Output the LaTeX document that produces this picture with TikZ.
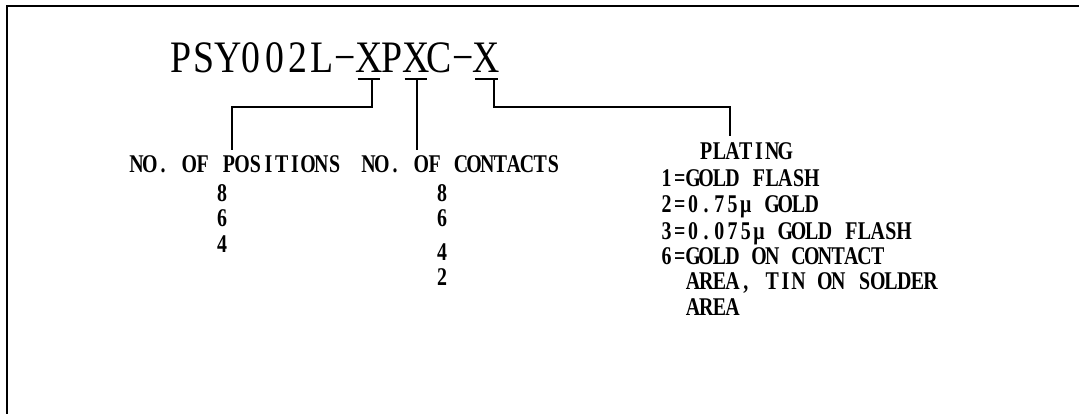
\documentclass[tikz,border=0pt]{standalone}
\usepackage{fontspec}
\usetikzlibrary{calc}
\newfontfamily\cadfont[FakeStretch=0.78,UprightFont=* Bold]{Liberation Serif}
\newfontfamily\cadtitle[FakeStretch=0.84]{Liberation Serif}
\ExplSyntaxOn
\NewDocumentCommand \mono { m m } { \str_map_inline:nn {#2} { \makebox[#1][c]{##1} } }
\ExplSyntaxOff
\newcommand\smono[1]{\mono{13.2pt}{#1}}
\newcommand\tmono[1]{\mono{23.5pt}{#1}}
\begin{document}
\begin{tikzpicture}[x=1pt,y=-1pt,
  lbl/.style={inner sep=0pt,outer sep=0pt,font=\cadfont\fontsize{25.5}{25.5}\selectfont},
  ttl/.style={inner sep=0pt,outer sep=0pt,font=\cadtitle\fontsize{45}{45}\selectfont,anchor=base west},
  conn/.style={line width=1.6pt},
  frame/.style={line width=2pt}]
\useasboundingbox (0,0) rectangle (1079,414);
% frame
\draw[frame] (7,414) -- (7,6) -- (1079,6);
% title
\node[ttl] (t1) at (169,73) {\tmono{PSY002L−}};
\node[ttl] (x1) at (t1.base east) {\tmono{X}};
\node[ttl] (t2) at (x1.base east) {\tmono{P}};
\node[ttl] (x2) at (t2.base east) {\tmono{X}};
\node[ttl] (t3) at (x2.base east) {\tmono{C−}};
\node[ttl] (x3) at (t3.base east) {\tmono{X}};
\foreach \n in {x1,x2,x3}
  \draw[conn] ($(\n.base west)+(0.5,6)$) -- ($(\n.base east)+(-0.5,6)$);
% labels
\node[lbl,anchor=base west] (pos) at (130,173) {\smono{NO. OF POSITIONS}};
\node[lbl,anchor=base west] (con) at (362,173) {\smono{NO. OF CONTACTS}};
\node[lbl,anchor=base] (p8) at (222,202) {8};
\node[lbl,anchor=base] (p6) at (222,227) {6};
\node[lbl,anchor=base] (p4) at (222,253) {4};
\node[lbl,anchor=base] (c8) at (442,202) {8};
\node[lbl,anchor=base] (c6) at (442,227) {6};
\node[lbl,anchor=base] (c4) at (442,260) {4};
\node[lbl,anchor=base] (c2) at (442,285) {2};
\node[lbl,anchor=base west] (plt) at (699.6,160) {\smono{PLATING}};
\node[lbl,anchor=base west] (pl1) at (660,187) {\smono{1=GOLD FLASH}};
\node[lbl,anchor=base west] (pl2) at (660,213) {\smono{2=0.75μ GOLD}};
\node[lbl,anchor=base west] (pl3) at (660,240) {\smono{3=0.075μ GOLD FLASH}};
\node[lbl,anchor=base west] (pl6) at (660,265) {\smono{6=GOLD ON CONTACT}};
\node[lbl,anchor=base west] (pl6b) at (686.4,289) {\smono{AREA, TIN ON SOLDER}};
\node[lbl,anchor=base west] (pl6c) at (686.4,315) {\smono{AREA}};
% connectors
\coordinate (x1u) at ($(x1.base)+(3,6)$);
\coordinate (x2u) at ($(x2.base)+(1,6)$);
\coordinate (x3u) at ($(x3.base east)+(-4,6)$);
\coordinate (k1) at (232,107);
\coordinate (e1) at (232,150);
\coordinate (k3) at (730,107);
\coordinate (e3) at (730,136);
\draw[conn] (x1u) |- (k1) -- (e1);
\draw[conn] (x2u) -- (x2u |- e1);
\draw[conn] (x3u) |- (k3) -- (e3);
\end{tikzpicture}
\end{document}
